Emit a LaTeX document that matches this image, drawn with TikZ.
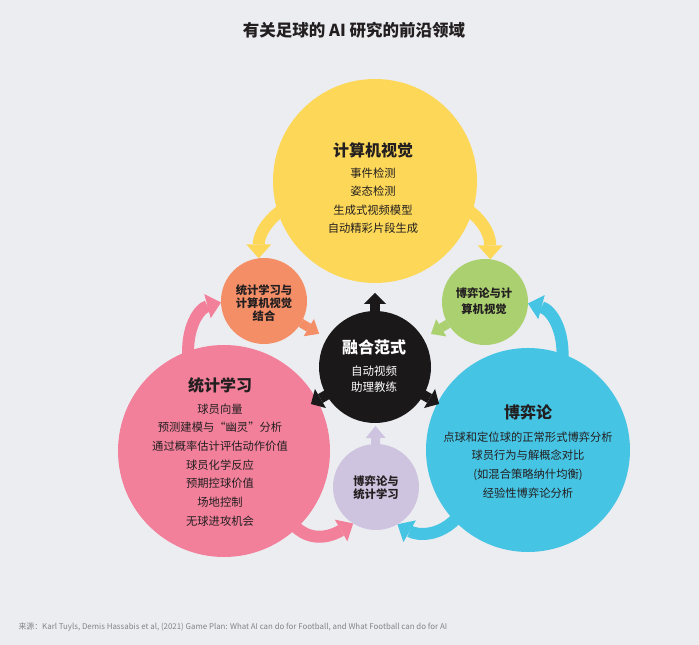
\documentclass[tikz,border=0pt]{standalone}
\usepackage{fontspec}
\setmainfont{Noto Sans CJK SC}
\usetikzlibrary{arrows.meta}

\definecolor{pagebg}{RGB}{236,237,241}
\definecolor{yellowc}{RGB}{253,216,88}
\definecolor{pinkc}{RGB}{242,128,155}
\definecolor{bluec}{RGB}{70,196,228}
\definecolor{orangec}{RGB}{244,142,103}
\definecolor{greenc}{RGB}{170,208,112}
\definecolor{lavenderc}{RGB}{207,196,224}
\definecolor{inkc}{RGB}{35,31,32}
\definecolor{fusec}{RGB}{26,24,25}
\definecolor{notec}{RGB}{130,130,135}

\pgfdeclarelayer{bg}
\pgfsetlayers{bg,main}

\begin{document}
\begin{tikzpicture}[x=1pt, y=1pt,
    ball/.style={circle, inner sep=0pt, outer sep=0pt},
    head/.style={font=\bfseries\fontsize{16}{18}\selectfont, text=inkc},
    items/.style={align=center, text=inkc},
    pair/.style={align=center, text=inkc, font=\bfseries\fontsize{11.3}{13}\selectfont},
    flow/.style={line width=12pt, shorten <=-8pt, -{Triangle[width=25pt,length=14pt,line width=0pt]}},
    stub/.style={line width=9pt, -{Triangle[width=20pt,length=12pt,line width=0pt]}}]
    \begin{pgfonlayer}{bg}
        \fill[pagebg] (0,0) rectangle (699,645);
    \end{pgfonlayer}
    \useasboundingbox (0,0) rectangle (699,645);

    % Title
    \node[font=\bfseries\fontsize{16.5}{18}\selectfont, text=inkc] (title) at (354,615) {有关足球的 AI 研究的前沿领域};

    % Big circles
    \node[ball, fill=yellowc, minimum size=204pt] (cv) at (375,464) {};
    \node[ball, fill=pinkc, minimum size=212pt] (stat) at (224,194) {};
    \node[ball, fill=bluec, minimum size=204pt] (game) at (528,195) {};

    % Small circles
    \node[ball, fill=orangec, minimum size=86pt] (statcv) at (264,344) {};
    \node[ball, fill=greenc, minimum size=86pt] (gamecv) at (485,343) {};
    \node[ball, fill=lavenderc, minimum size=86pt] (gamestat) at (376,158) {};

    % Centre with its three arrows
    \node[ball, fill=fusec, minimum size=112pt] (fuse) at (375,278) {};
    \foreach \a in {90,210,330}
        \draw[fusec, line width=10pt, -{Triangle[width=22pt,length=11pt,line width=0pt]}] (fuse.center) -- ++(\a:74);

    % Texts
    \node[head] (cvhead) at (373,495) {计算机视觉};
    \node[items, font=\fontsize{11.3}{18.5}\selectfont] (cvlist) at (373,444.5)
        {事件检测\\姿态检测\\生成式视频模型\\自动精彩片段生成};
    \node[head] (stathead) at (220,260) {统计学习};
    \node[items, font=\fontsize{11.3}{18.7}\selectfont] (statlist) at (220,180)
        {球员向量\\预测建模与“幽灵”分析\\通过概率估计评估动作价值\\球员化学反应\\预期控球价值\\场地控制\\无球进攻机会};
    \node[head] (gamehead) at (528,233) {博弈论};
    \node[items, font=\fontsize{11.3}{18.7}\selectfont] (gamelist) at (528,180)
        {点球和定位球的正常形式博弈分析\\球员行为与解概念对比\\(如混合策略纳什均衡)\\经验性博弈论分析};
    \node[head, text=white] (fusehead) at (374,298) {融合范式};
    \node[items, text=white, font=\fontsize{11.5}{16}\selectfont] (fuselist) at (374,266)
        {自动视频\\助理教练};
    \node[pair] (statcvtext) at (264,342) {统计学习与\\计算机视觉\\结合};
    \node[pair, font=\bfseries\fontsize{11.3}{15.5}\selectfont] (gamecvtext) at (484,344) {博弈论与计\\算机视觉};
    \node[pair] (gamestattext) at (376,157) {博弈论与\\统计学习};

    % Source
    \node[anchor=west, text=notec, font=\fontsize{7.9}{9}\selectfont] (source) at (15,18)
        {来源：Karl Tuyls, Demis Hassabis et al, (2021) Game Plan: What AI can do for Football, and What Football can do for AI};

    % Arrows between the circles
    \begin{pgfonlayer}{bg}
        \draw[flow, yellowc] (cv.198) to[out=215,in=90] (statcv.97);
        \draw[flow, yellowc] (cv.-18) to[out=-35,in=90] (gamecv.83);
        \draw[flow, pinkc] (stat.110) to[out=95,in=195] (statcv.182);
        \draw[flow, bluec] (game.70) to[out=85,in=-15] (gamecv.-2);
        \draw[flow, pinkc] (stat.-47) to[out=-50,in=210] (gamestat.238);
        \draw[flow, bluec] (game.224) to[out=230,in=-30] (gamestat.-60);
        \draw[stub, orangec, shorten >=9pt] (statcv) -- (fuse);
        \draw[stub, greenc, shorten >=9pt] (gamecv) -- (fuse);
        \draw[stub, lavenderc, shorten >=3pt] (gamestat) -- (fuse);
    \end{pgfonlayer}
\end{tikzpicture}
\end{document}
